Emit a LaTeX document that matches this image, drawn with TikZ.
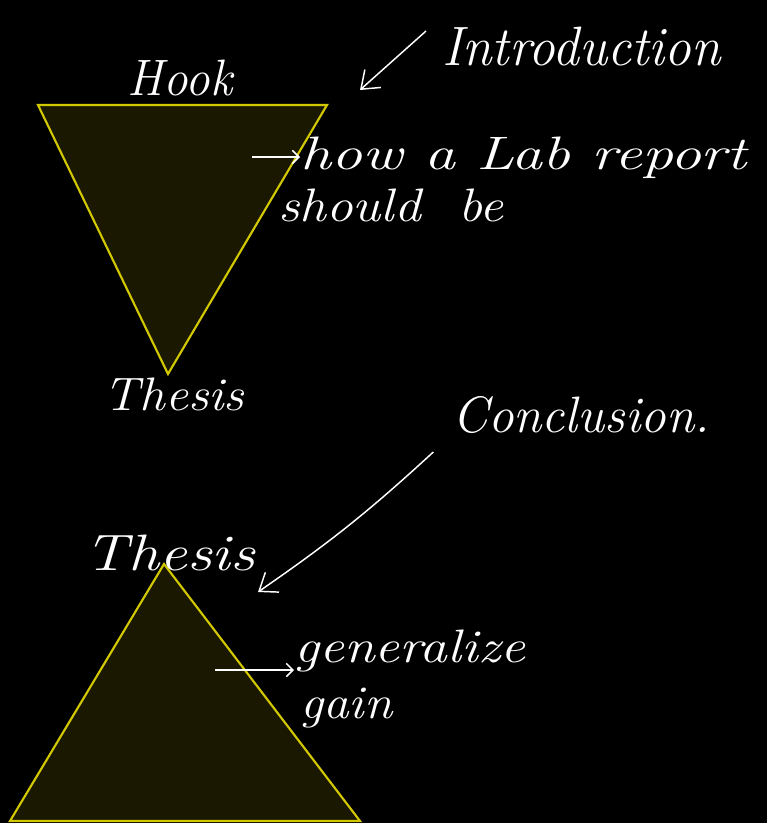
\documentclass[tikz,border=0pt]{standalone}
\usetikzlibrary{arrows.meta}
\definecolor{tri}{HTML}{D2C800}
\definecolor{trifill}{HTML}{1A1800}
\tikzset{
  hand/.style={text=white, font=\fontsize{32}{38}\selectfont\itshape, inner sep=0pt},
  trishape/.style={draw=tri, fill=trifill, line width=1.6pt, line join=miter},
  arr/.style={draw=white, line width=1.1pt, -{Straight Barb[length=12pt,width=18pt,line width=1.1pt]}},
  lead/.style={draw=white, line width=1.1pt, -{Straight Barb[length=5pt,width=10pt,line width=1.1pt]}}
}
\begin{document}
\begin{tikzpicture}[x=0.75pt,y=-0.75pt]
\fill[black] (0,0) rectangle (767,823);
\useasboundingbox (0,0) rectangle (767,823);
% triangles
\coordinate (t1a) at (38,105);
\coordinate (t1b) at (327,105);
\coordinate (t1c) at (168,374);
\path[trishape] (t1a) -- (t1b) -- (t1c) -- cycle;
\coordinate (t2a) at (164,564);
\coordinate (t2b) at (360,821);
\coordinate (t2c) at (10,821);
\path[trishape] (t2a) -- (t2b) -- (t2c) -- cycle;
% texts
\node[hand, anchor=base] (hook) at (180,96) {\scalebox{1.15}[1.2]{Hook}};
\node[hand, anchor=base west] (intro) at (442,66) {\scalebox{1.25}[1.3]{Introduction}};
\node[hand, anchor=base west] (how) at (300,170) {\scalebox{1.45}[1.1]{how a Lab report}};
\node[hand, anchor=base west] (should) at (278,222) {\scalebox{1.25}[1.1]{should\ \ be}};
\node[hand, anchor=base] (thesisA) at (174,410) {\scalebox{1.2}[1.1]{Thesis}};
\node[hand, anchor=base west] (concl) at (452,432) {\scalebox{1.2}[1.2]{Conclusion.}};
\node[hand, anchor=base] (thesisB) at (170,570) {\scalebox{1.45}[1.2]{Thesis}};
\node[hand, anchor=base west] (gen) at (294,662) {\scalebox{1.3}[1.1]{generalize}};
\node[hand, anchor=base west] (gain) at (300,718) {\scalebox{1.2}[1.1]{gain}};
% connectors
\coordinate (introTip) at (360,90);
\coordinate (conclTip) at (258,592);
\coordinate (howTail) at (252,157);
\coordinate (genTail) at (215,670);
\draw[arr] ([xshift=-12pt,yshift=12pt]intro.west) -- (introTip);
\draw[arr] ([xshift=-14pt,yshift=-14pt]concl.south west) to[bend left=4] (conclTip);
\draw[lead] (howTail) -- (howTail -| how.west);
\draw[lead] (genTail) -- (genTail -| gen.west);
\end{tikzpicture}
\end{document}
